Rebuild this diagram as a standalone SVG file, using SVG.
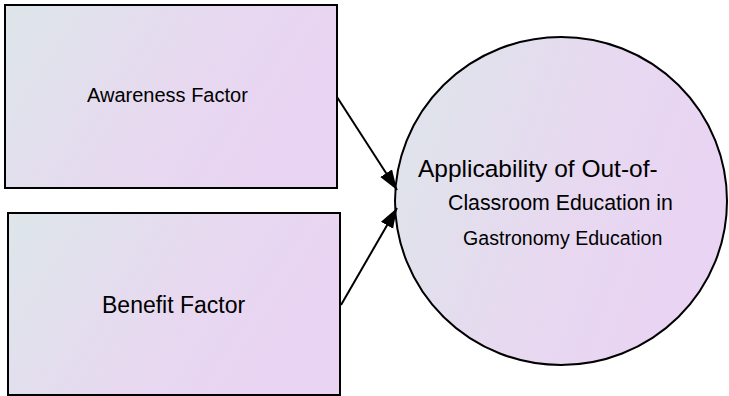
<svg xmlns="http://www.w3.org/2000/svg" width="729" height="396" viewBox="0 0 729 396">
<style>
.node{stroke:#000;stroke-width:2}
.lbl{font-family:"Liberation Sans",Arial,sans-serif;fill:#000}
.conn{stroke:#000;stroke-width:2;fill:none}
</style>
<defs>
<linearGradient id="g" x1="0" y1="0" x2="1" y2="0.35">
<stop offset="0" stop-color="#dde6ea"/>
<stop offset="0.6" stop-color="#e7d9f0"/>
<stop offset="1" stop-color="#e9d4f3"/>
</linearGradient>
<marker id="ah" markerUnits="userSpaceOnUse" markerWidth="22" markerHeight="16" refX="20" refY="7" orient="auto">
<path d="M0,0 L20,7 L0,14 Z" fill="#000"/>
</marker>
</defs>
<rect width="729" height="396" fill="#fff"/>
<g id="awareness">
<rect class="node" x="5" y="5" width="332" height="183" fill="url(#g)"/>
<text class="lbl" x="87" y="102" font-size="20">Awareness Factor</text>
</g>
<g id="benefit">
<rect class="node" x="8" y="213" width="332" height="182" fill="url(#g)"/>
<text class="lbl" x="102" y="313" font-size="23">Benefit Factor</text>
</g>
<g id="applicability">
<ellipse class="node" cx="561" cy="201" rx="166" ry="164" fill="url(#g)"/>
<text class="lbl" x="418" y="177" font-size="24.5">Applicability of Out-of-</text>
<text class="lbl" x="448" y="210" font-size="21.3">Classroom Education in</text>
<text class="lbl" x="463" y="245" font-size="19.6">Gastronomy Education</text>
</g>
<g id="connectors">
<line class="conn" x1="337" y1="97" x2="397" y2="190" marker-end="url(#ah)"/>
<line class="conn" x1="341" y1="305" x2="397" y2="208" marker-end="url(#ah)"/>
</g>
</svg>
